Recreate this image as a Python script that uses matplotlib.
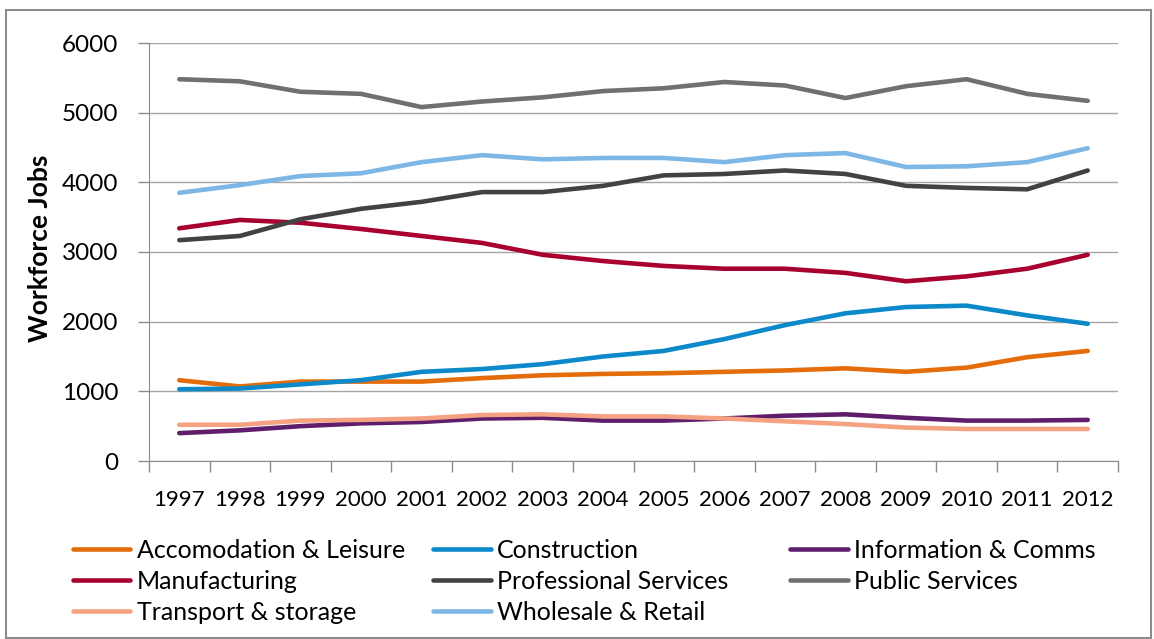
import numpy as np
import matplotlib.pyplot as plt
from matplotlib.patches import Rectangle
from matplotlib.lines import Line2D

plt.rcParams['font.family'] = ['Lato', 'DejaVu Sans']

years = [str(y) for y in range(1997, 2013)]

accomodation = [1160, 1070, 1140, 1140, 1140, 1190, 1230, 1250, 1260, 1280, 1300, 1330, 1280, 1340, 1490, 1580]
construction = [1030, 1040, 1100, 1160, 1280, 1320, 1390, 1500, 1580, 1750, 1950, 2120, 2210, 2230, 2090, 1970]
info_comms = [400, 440, 500, 540, 560, 610, 620, 580, 580, 610, 650, 670, 620, 580, 580, 590]
manufacturing = [3340, 3460, 3420, 3330, 3230, 3130, 2960, 2870, 2800, 2760, 2760, 2700, 2580, 2650, 2760, 2960]
professional = [3170, 3230, 3470, 3620, 3720, 3860, 3860, 3950, 4100, 4120, 4170, 4120, 3950, 3920, 3900, 4170]
public = [5480, 5450, 5300, 5270, 5080, 5160, 5220, 5310, 5350, 5440, 5390, 5210, 5380, 5480, 5270, 5170]
transport = [520, 520, 580, 590, 610, 660, 670, 640, 640, 610, 570, 530, 480, 460, 460, 460]
wholesale = [3850, 3960, 4090, 4130, 4290, 4390, 4330, 4350, 4350, 4290, 4390, 4420, 4220, 4230, 4290, 4490]

names = ['Accomodation & Leisure', 'Construction', 'Information & Comms',
         'Manufacturing', 'Professional Services', 'Public Services',
         'Transport & storage', 'Wholesale & Retail']
series = [accomodation, construction, info_comms, manufacturing,
          professional, public, transport, wholesale]
colors = ['#E46C0A', '#0B89C9', '#5E1E6C', '#A8002F',
          '#404244', '#707070', '#F5A283', '#7DB7E6']

fig = plt.figure(figsize=(11.54, 6.39), dpi=100)
ax = fig.add_axes([149/1154, 1 - 461/639, (1118-149)/1154, (461-43)/639])

x = np.arange(len(years))
for name, vals, c in zip(names, series, colors):
    ax.plot(x, vals, color=c, lw=3.3, solid_capstyle='round',
            solid_joinstyle='round')

ax.set_xlim(-0.5, len(years) - 0.5)
ax.set_ylim(0, 6000)
ax.set_yticks(range(0, 6001, 1000))
ax.set_xticks(x)
ax.set_xticklabels(years)
ax.set_xticks(np.arange(-0.5, len(years)), minor=True)
ax.tick_params(axis='x', which='major', length=0, pad=21, labelsize=16)
ax.tick_params(axis='x', which='minor', length=8, color='#8C8C8C', width=1)
ax.tick_params(axis='y', length=8, color='#8C8C8C', width=1, pad=14, labelsize=17.5)
ax.grid(axis='y', color='#A6A6A6', lw=1)
ax.set_axisbelow(True)
for s in ['top', 'right']:
    ax.spines[s].set_visible(False)
for s in ['left', 'bottom']:
    ax.spines[s].set_color('#8C8C8C')
ax.set_ylabel('Workforce Jobs', fontsize=19, fontweight='bold')
ax.yaxis.set_label_coords(-0.1, 0.51)

# legend in three fixed-width columns, like Excel
cols = [(73, [0, 3, 6]), (433, [1, 4, 7]), (790, [2, 5])]
for xpix, idx in cols:
    h = [Line2D([], [], color=colors[i], lw=3.3, solid_capstyle='round') for i in idx]
    fig.legend(h, [names[i] for i in idx], loc='upper left',
               bbox_to_anchor=(xpix/1154, 1 - 539/639), frameon=False,
               fontsize=18, handlelength=2.3, handletextpad=0.25,
               labelspacing=0.32, borderpad=0, borderaxespad=0)

fig.add_artist(Rectangle((6/1154, 1/639), 1145/1154, 628/639, transform=fig.transFigure,
                         fill=False, edgecolor='#8C8C8C', lw=1.5))

fig.savefig('out.png', dpi=100)
